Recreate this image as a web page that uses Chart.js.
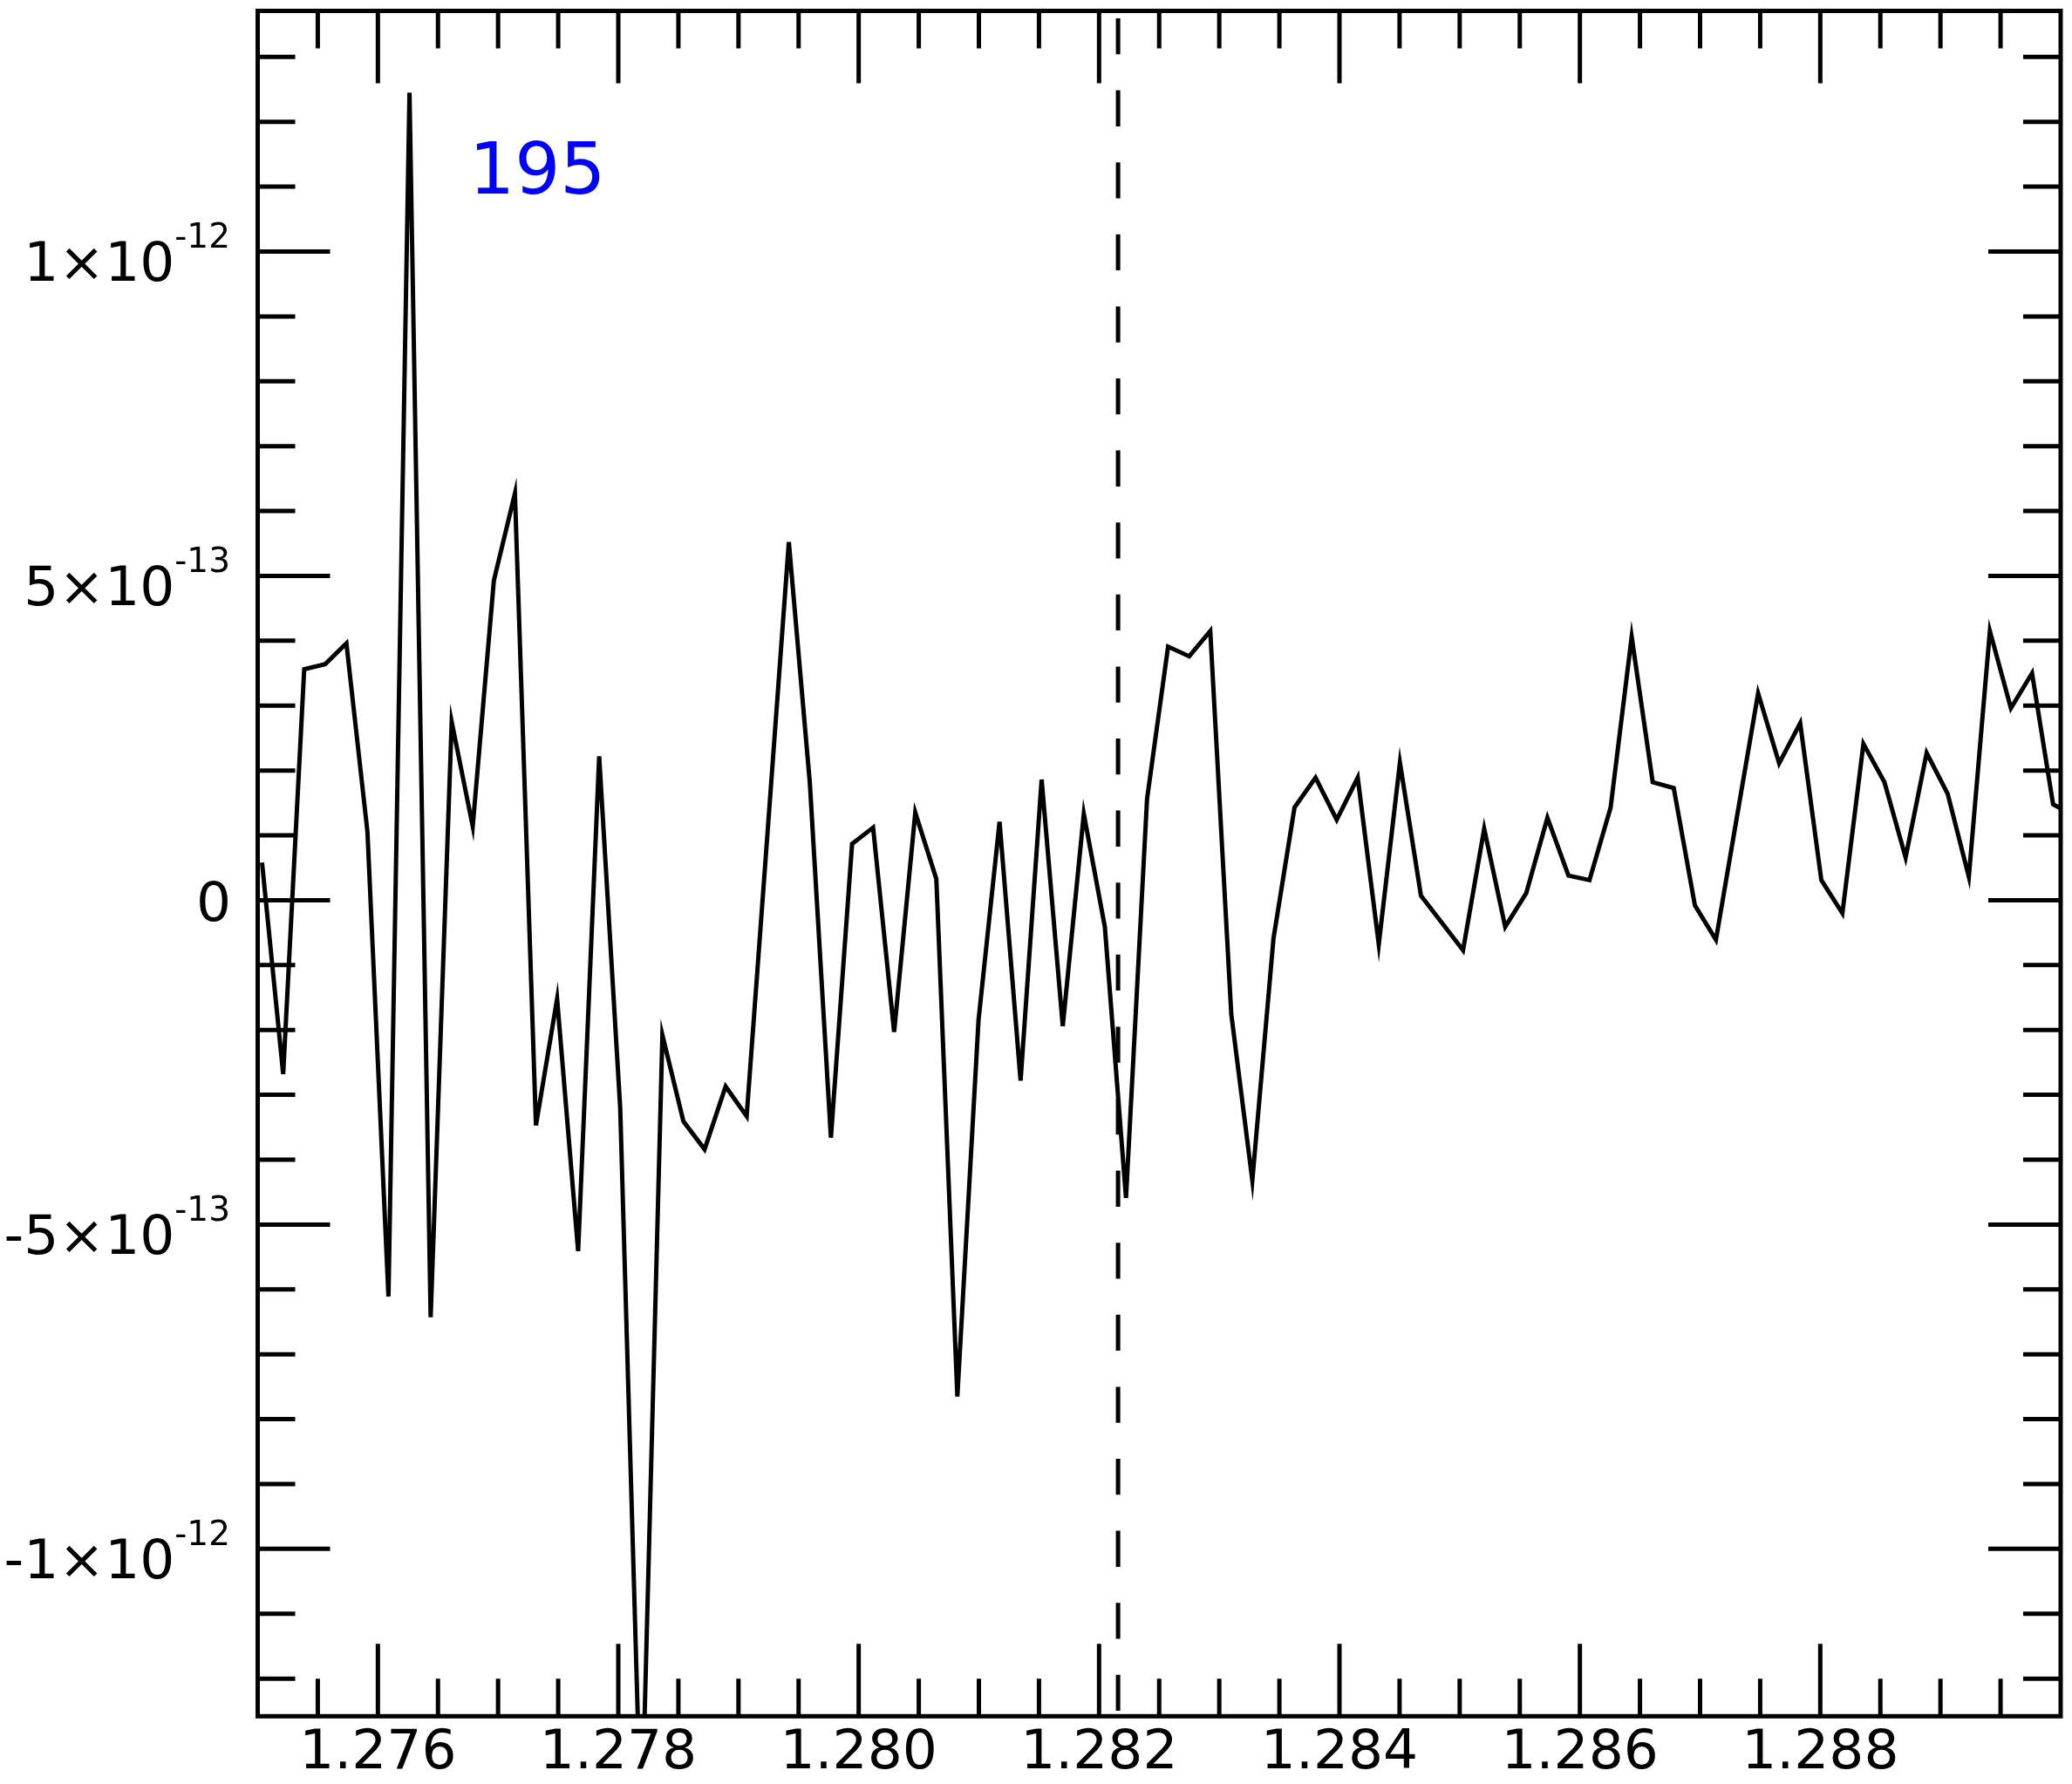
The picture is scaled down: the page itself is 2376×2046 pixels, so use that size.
<!DOCTYPE html>
<html><head><meta charset="utf-8">
<script src="https://cdn.jsdelivr.net/npm/chart.js@4.4.1/dist/chart.umd.min.js"></script>
<style>html,body{margin:0;padding:0;background:#fff;}#wrap{width:2376px;height:2046px;}</style>
</head><body><div id="wrap"><canvas id="c" width="2376" height="2046"></canvas></div>
<script>
// ---- data (wavelength, flux in units of 1e-13) ----
const wavelength = [
 1.275036,1.275212,1.275387,1.275562,1.275738,1.275913,1.276088,1.276263,1.276439,1.276614,
 1.276789,1.276965,1.277140,1.277315,1.277491,1.277666,1.277841,1.278016,1.278192,1.278367,
 1.278542,1.278718,1.278893,1.279068,1.279244,1.279419,1.279594,1.279769,1.279945,1.280120,
 1.280295,1.280471,1.280646,1.280821,1.280997,1.281172,1.281347,1.281522,1.281698,1.281873,
 1.282048,1.282224,1.282399,1.282574,1.282750,1.282925,1.283100,1.283275,1.283451,1.283626,
 1.283801,1.283977,1.284152,1.284327,1.284503,1.284678,1.284853,1.285028,1.285204,1.285379,
 1.285554,1.285730,1.285905,1.286080,1.286256,1.286431,1.286606,1.286781,1.286957,1.287132,
 1.287307,1.287483,1.287658,1.287833,1.288009,1.288184,1.288359,1.288534,1.288710,1.288885,
 1.289060,1.289236,1.289411,1.289586,1.289762,1.289937,1.290112];
const fluxE13 = [
 0.58,-2.68,3.56,3.64,3.96,1.06,-6.11,12.45,-6.43,2.75,
 1.14,4.93,6.27,-3.47,-1.52,-5.41,2.22,-3.2,-14.5,-2.08,
 -3.41,-3.84,-2.87,-3.33,1.1,5.52,1.8,-3.66,0.87,1.12,
 -2.03,1.35,0.33,-7.65,-1.85,1.21,-2.78,1.86,-1.94,1.33,
 -0.41,-4.59,1.56,3.91,3.76,4.15,-1.76,-4.32,-0.59,1.43,
 1.89,1.24,1.89,-0.68,2.12,0.07,-0.35,-0.77,1.10,-0.41,
 0.11,1.27,0.38,0.31,1.43,4.06,1.82,1.73,-0.08,-0.61,
 1.29,3.19,2.11,2.73,0.31,-0.2,2.41,1.82,0.66,2.27,
 1.64,0.36,4.15,2.96,3.50,1.48,1.3];
const fluxUnit = 1e-13;

const xTickValues = [1.276,1.278,1.280,1.282,1.284,1.286,1.288];
const xTickLabels = ['1.276','1.278','1.280','1.282','1.284','1.286','1.288'];
const yTickValues = [-1e-12,-5e-13,0,5e-13,1e-12];
const yTickMain = ['-1\u00d710','-5\u00d710','0','5\u00d710','1\u00d710'];
const yTickSup  = ['-12','-13','','-13','-12'];
const xRange = [1.275, 1.290];
const yRange = [-1.258e-12, 1.371e-12];
const markerX = 1.282158;
const panelLabel = '195';

const FONT = "'DejaVu Sans'";
Chart.defaults.font.family = 'DejaVu Sans';

const points = wavelength.map((w,i)=>({x:w, y:fluxE13[i]*fluxUnit}));

const framePlugin = {
  id:'frame',
  beforeDraw(chart){
    const ctx=chart.ctx; ctx.save(); ctx.fillStyle='#fff';
    ctx.fillRect(0,0,chart.width,chart.height); ctx.restore();
  },
  afterDraw(chart){
    const {ctx, chartArea:a, scales:{x,y}} = chart;
    ctx.save();
    ctx.strokeStyle='#000'; ctx.lineCap='butt';
    // dashed marker line
    const mx = x.getPixelForValue(markerX);
    ctx.lineWidth=5; ctx.setLineDash([41.3,41.3]);
    ctx.beginPath(); ctx.moveTo(mx, a.top+8.5); ctx.lineTo(mx, a.bottom); ctx.stroke();
    ctx.setLineDash([]);
    // x ticks (minor every 0.0005, major every 0.002)
    ctx.lineWidth=5;
    for(let k=1;k<30;k++){
      const v = 1.275 + k*0.0005;
      const major = xTickValues.some(t=>Math.abs(t-v)<1e-7);
      const L = major?83:43;
      const px = x.getPixelForValue(v);
      ctx.beginPath();
      ctx.moveTo(px,a.bottom); ctx.lineTo(px,a.bottom-L);
      ctx.moveTo(px,a.top); ctx.lineTo(px,a.top+L);
      ctx.stroke();
    }
    // y ticks (minor every 1e-13, major every 5e-13)
    for(let k=-12;k<=13;k++){
      const v = k*1e-13;
      const major = (k%5===0);
      const L = major?83:43;
      const py = y.getPixelForValue(v);
      ctx.beginPath();
      ctx.moveTo(a.left,py); ctx.lineTo(a.left+L,py);
      ctx.moveTo(a.right,py); ctx.lineTo(a.right-L,py);
      ctx.stroke();
    }
    // frame
    ctx.lineWidth=5;
    ctx.strokeRect(a.left,a.top,a.right-a.left,a.bottom-a.top);
    // y tick labels with superscripts
    ctx.fillStyle='#000'; ctx.textBaseline='alphabetic';
    yTickValues.forEach((v,i)=>{
      const py = y.getPixelForValue(v);
      if(yTickSup[i]===''){
        ctx.font = '63px '+FONT; ctx.textAlign='right';
        ctx.fillText(yTickMain[i], 265, py+23.5);
      } else {
        ctx.font = '39px '+FONT;
        const sw = ctx.measureText(yTickSup[i]).width;
        ctx.textAlign='left';
        const right = 264;
        ctx.fillText(yTickSup[i], right-sw, py+34-38.4);
        ctx.font = '63px '+FONT; ctx.textAlign='right';
        ctx.fillText(yTickMain[i], right-sw, py+34);
      }
    });
    // panel label
    ctx.fillStyle='#0000ff'; ctx.font='82px '+FONT; ctx.textAlign='left';
    ctx.fillText(panelLabel, 538, 221.7);
    ctx.restore();
  }
};

new Chart(document.getElementById('c'), {
  type:'line',
  data:{datasets:[{data:points, borderColor:'#000', borderWidth:5, pointRadius:0,
    tension:0, fill:false, borderJoinStyle:'miter'}]},
  options:{
    responsive:false, animation:false, devicePixelRatio:1,
    layout:{padding:{left:295.5, right:13, top:12.5, bottom:0}},
    plugins:{legend:{display:false}, tooltip:{enabled:false}},
    scales:{
      x:{type:'linear', min:xRange[0], max:xRange[1],
        grid:{display:false, drawTicks:false}, border:{display:false},
        afterBuildTicks:(s)=>{ s.ticks = xTickValues.map(v=>({value:v})); },
        afterFit:(s)=>{ s.height = 77.7; },
        ticks:{autoSkip:false, maxRotation:0, padding:12, color:'#000',
          font:{size:63, family:'DejaVu Sans', lineHeight:1},
          callback:(v)=>{ const i = xTickValues.findIndex(t=>Math.abs(t-v)<1e-7); return i>=0?xTickLabels[i]:''; }}
      },
      y:{type:'linear', display:false, min:yRange[0], max:yRange[1]}
    }
  },
  plugins:[framePlugin]
});
</script></body></html>
